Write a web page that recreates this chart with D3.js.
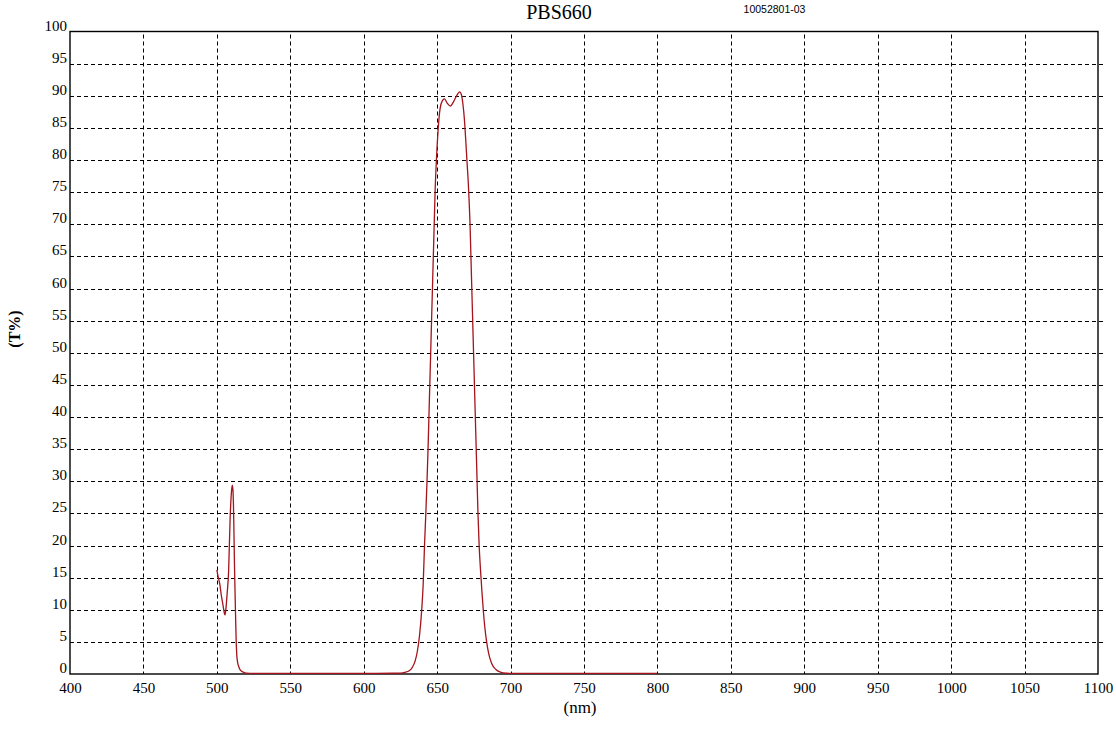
<!DOCTYPE html>
<html>
<head>
<meta charset="utf-8">
<script src="https://cdn.jsdelivr.net/npm/d3@7/dist/d3.min.js"></script>
<style>
  html, body { margin: 0; padding: 0; background: #ffffff; }
  svg { display: block; }
</style>
</head>
<body>
<svg id="chart" width="1116" height="730"></svg>
<script>
const xTicks = [400,450,500,550,600,650,700,750,800,850,900,950,1000,1050,1100];
const yTicks = [0,5,10,15,20,25,30,35,40,45,50,55,60,65,70,75,80,85,90,95,100];

const wavelength = [
  500,501,502,503,504,505,505.5,506,507,508,509,510,510.5,511,511.5,512,512.5,513,513.5,514,515,516,518,520,525,550,600,620,
  625,628,631,633,635,636.5,638,639.5,640.5,641.4,642.3,643.1,643.8,644.4,645.0,645.6,646.2,646.8,647.4,648.0,648.6,649.5,650.6,
  652,653.5,655,657,659,661,663,665.3,666.5,667.5,668.5,669.5,670.4,671.2,671.8,672.4,673,673.6,674.2,674.8,675.4,676,676.6,677.2,677.8,
  678.6,679.5,680.5,681.5,682.5,683.7,685,687,690,693,697,700,750,800
];
const transmission = [
  16.2,15.0,14.0,12.3,11.0,9.6,9.2,9.8,12.5,16.0,24.0,28.5,29.4,28.5,24,17,11.5,6.5,3.2,2.0,1.1,0.6,0.3,0.15,0.1,0.1,0.1,0.12,
  0.15,0.25,0.5,1.0,2.0,3.5,6.0,10,14,20,25,30,35,40,45,50,55,60,65,70,75,80,84.5,
  88,89.2,89.5,88.8,88.4,89.0,89.9,90.6,90.2,88.8,86.5,83,79.5,76.5,73.5,70,65,60,55,50,45,40,35,30,25,
  20,16.3,12.8,9.7,7.2,5.0,3.3,1.7,0.7,0.3,0.12,0.1,0.1,0.1
];

const svg = d3.select("#chart");
const L = 70, R = 1098, T = 31.5, B = 674;

const x = d3.scaleLinear().domain([400, 1100]).range([L, R]);
const y = d3.scaleLinear().domain([0, 100]).range([B, T]);

// grid
const grid = svg.append("g").attr("stroke", "#000").attr("stroke-width", 1).attr("stroke-dasharray", "4,3");
grid.selectAll("line.v").data(xTicks.filter(d => d > 400 && d < 1100)).enter().append("line")
  .attr("class", "v")
  .attr("x1", d => Math.round(x(d)) + 0.5).attr("x2", d => Math.round(x(d)) + 0.5)
  .attr("y1", T + 3).attr("y2", B);
grid.selectAll("line.h").data(yTicks.filter(d => d > 0 && d < 100)).enter().append("line")
  .attr("class", "h")
  .attr("y1", d => Math.round(y(d)) + 0.5).attr("y2", d => Math.round(y(d)) + 0.5)
  .attr("x1", L).attr("x2", R + 6);

// box
svg.append("rect").attr("x", L).attr("y", T).attr("width", R - L).attr("height", B - T)
  .attr("fill", "none").attr("stroke", "#000").attr("stroke-width", 1.4);

// axes
const fontFam = "'Liberation Serif', 'Times New Roman', serif";
const xAxis = svg.append("g").attr("transform", `translate(0,${B})`)
  .call(d3.axisBottom(x).tickValues(xTicks).tickSize(0).tickPadding(8).tickFormat(d3.format("d")));
const yAxis = svg.append("g").attr("transform", `translate(${L},0)`)
  .call(d3.axisLeft(y).tickValues(yTicks).tickSize(0).tickPadding(3).tickFormat(d3.format("d")));
[xAxis, yAxis].forEach(a => {
  a.select(".domain").remove();
  a.selectAll("text").attr("font-family", fontFam).attr("font-size", 15).attr("fill", "#000");
});
yAxis.selectAll("text").attr("dy", "-0.1em");

// curve
const pts = wavelength.map((w, i) => [w, transmission[i]]);
const line = d3.line().x(d => x(d[0])).y(d => y(d[1])).curve(d3.curveMonotoneX);
svg.append("path").datum(pts).attr("d", line)
  .attr("fill", "none").attr("stroke", "#a3141c").attr("stroke-width", 1.3);

// titles
svg.append("text").attr("x", 559).attr("y", 18.5).attr("text-anchor", "middle")
  .attr("font-family", fontFam).attr("font-size", 20).text("PBS660");
svg.append("text").attr("x", 774.5).attr("y", 12.5).attr("text-anchor", "middle")
  .attr("font-family", "'Liberation Sans', Arial, sans-serif").attr("font-size", 10.5).text("10052801-03");
svg.append("text").attr("x", 580).attr("y", 713).attr("text-anchor", "middle")
  .attr("font-family", fontFam).attr("font-size", 17).text("(nm)");
svg.append("text").attr("transform", "translate(20,329) rotate(-90)").attr("text-anchor", "middle")
  .attr("font-family", fontFam).attr("font-size", 16).attr("font-weight", "bold").text("(T%)");
</script>
</body>
</html>
